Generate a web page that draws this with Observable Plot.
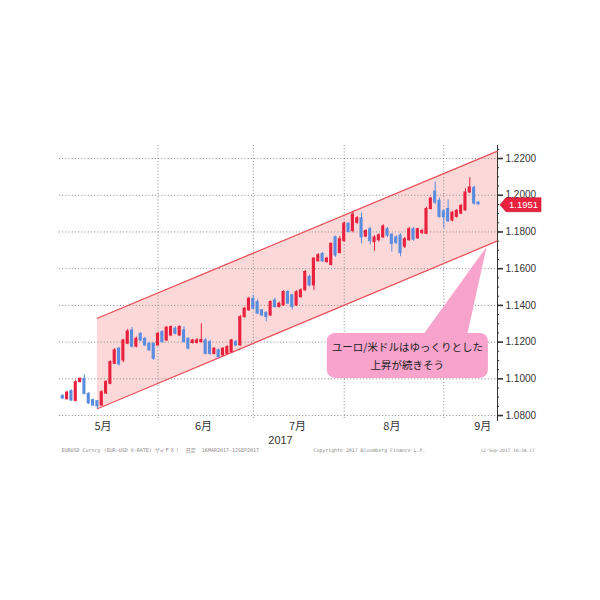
<!DOCTYPE html>
<html>
<head>
<meta charset="utf-8">
<script src="https://cdn.jsdelivr.net/npm/d3@7"></script>
<script src="https://cdn.jsdelivr.net/npm/@observablehq/plot@0.6"></script>
<style>
  html, body { margin: 0; padding: 0; background: #fff; }
  #chart { width: 600px; height: 600px; }
  #chart svg [aria-label="y-axis tick"] { stroke-width: 1.6px; }
</style>
</head>
<body>
<div id="chart"></div>
<script>
// ---- Data (EUR/USD daily candles, 1 May – 12 Sep 2017) ----
const opens  = [1.0907,1.0889,1.0933,1.0880,1.0982,1.1000,1.0918,1.0884,1.0878,1.0855,
                1.0920,1.0973,1.1082,1.1164,1.1100,1.1191,1.1264,1.1175,1.1245,1.1218,
                1.1191,1.1191,1.1182,1.1255,1.1209,1.1236,1.1273,1.1236,1.1264,1.1218,
                1.1195,1.1195,1.1200,1.1209,1.1200,1.1136,1.1155,1.1128,1.1136,1.1145,
                1.1200,1.1182,1.1336,1.1373,1.1436,1.1418,1.1373,1.1360,1.1345,1.1427,
                1.1391,1.1400,1.1473,1.1455,1.1399,1.1445,1.1482,1.1555,1.1509,1.1640,
                1.1680,1.1636,1.1620,1.1771,1.1685,1.1750,1.1845,1.1805,1.1850,1.1875,
                1.1775,1.1815,1.1745,1.1755,1.1770,1.1815,1.1785,1.1770,1.1780,1.1720,
                1.1755,1.1815,1.1765,1.1795,1.1790,1.1925,1.2020,1.1970,1.1912,1.1925,
                1.1862,1.1882,1.1900,1.1918,1.2015,1.2040,1.1960];
const highs  = [1.0913,1.0930,1.0940,1.0992,1.1005,1.1022,1.0925,1.0890,1.0882,1.0935,
                1.0990,1.1098,1.1165,1.1172,1.1215,1.1270,1.1280,1.1228,1.1252,1.1226,
                1.1198,1.1196,1.1252,1.1262,1.1285,1.1288,1.1285,1.1290,1.1285,1.1224,
                1.1215,1.1220,1.1300,1.1218,1.1210,1.1170,1.1162,1.1170,1.1180,1.1215,
                1.1210,1.1345,1.1390,1.1445,1.1455,1.1430,1.1378,1.1365,1.1424,1.1440,
                1.1418,1.1480,1.1480,1.1460,1.1480,1.1490,1.1590,1.1565,1.1660,1.1682,
                1.1688,1.1662,1.1740,1.1778,1.1775,1.1855,1.1850,1.1910,1.1885,1.1905,
                1.1812,1.1825,1.1780,1.1790,1.1840,1.1825,1.1790,1.1780,1.1790,1.1770,
                1.1825,1.1825,1.1820,1.1815,1.1935,1.1988,1.2072,1.1985,1.1920,1.1975,
                1.1912,1.1922,1.1950,1.2035,1.2095,1.2050,1.1965];
const lows   = [1.0886,1.0884,1.0878,1.0874,1.0978,1.0912,1.0860,1.0848,1.0838,1.0850,
                1.0915,1.0968,1.1078,1.1070,1.1088,1.1186,1.1168,1.1168,1.1202,1.1176,
                1.1150,1.1100,1.1178,1.1195,1.1203,1.1230,1.1240,1.1230,1.1195,1.1158,
                1.1190,1.1190,1.1195,1.1130,1.1128,1.1130,1.1112,1.1122,1.1132,1.1140,
                1.1175,1.1176,1.1330,1.1368,1.1375,1.1350,1.1338,1.1310,1.1340,1.1385,
                1.1386,1.1395,1.1405,1.1375,1.1394,1.1440,1.1478,1.1500,1.1482,1.1635,
                1.1635,1.1630,1.1615,1.1662,1.1680,1.1745,1.1795,1.1795,1.1840,1.1735,
                1.1770,1.1730,1.1695,1.1745,1.1765,1.1770,1.1690,1.1730,1.1665,1.1710,
                1.1750,1.1750,1.1760,1.1785,1.1785,1.1920,1.1950,1.1875,1.1820,1.1852,
                1.1855,1.1875,1.1895,1.1912,1.2010,1.1945,1.1945];
const closes = [1.0893,1.0925,1.0882,1.0982,1.1000,1.0918,1.0866,1.0855,1.0850,1.0927,
                1.0982,1.1091,1.1155,1.1078,1.1209,1.1258,1.1175,1.1218,1.1209,1.1182,
                1.1155,1.1109,1.1245,1.1200,1.1278,1.1282,1.1245,1.1282,1.1200,1.1164,
                1.1209,1.1209,1.1212,1.1136,1.1136,1.1164,1.1118,1.1164,1.1173,1.1209,
                1.1182,1.1336,1.1382,1.1436,1.1382,1.1355,1.1345,1.1336,1.1418,1.1391,
                1.1409,1.1473,1.1410,1.1391,1.1472,1.1482,1.1582,1.1509,1.1655,1.1673,
                1.1640,1.1655,1.1735,1.1672,1.1760,1.1845,1.1800,1.1895,1.1875,1.1770,
                1.1805,1.1750,1.1770,1.1782,1.1830,1.1780,1.1735,1.1740,1.1685,1.1760,
                1.1815,1.1758,1.1815,1.1805,1.1925,1.1982,1.1960,1.1882,1.1880,1.1858,
                1.1905,1.1915,1.1942,1.2015,1.2042,1.1955,1.1951];

// axis / labels
const yTicks = [1.08, 1.10, 1.12, 1.14, 1.16, 1.18, 1.20, 1.22];
const yMinor = d3.range(1.080, 1.2251, 0.005);
const monthLabels = ["5月", "6月", "7月", "8月", "9月"];
const monthLabelPos = [9.3, 32.5, 54.2, 76.0, 97.0];   // trading-day index of each label
const monthEnds = [22, 44, 65, 88];                     // last trading day of May..Aug
const yearLabel = "2017";

// trend channel
const channelX = [8, 100.4];
const channelUpper = [1.1330, 1.2240];
const channelLower = [1.0837, 1.1751];

const lastPrice = 1.1951;
const noteLines = ["ユーロ/米ドルはゆっくりとした", "上昇が続きそう"];
const noteBoxX = [61.1, 98.3], noteBoxY = [1.1002, 1.1247];
const notePointerBase = [83.3, 93.5], notePointerTip = [98.0, 1.1717];

const captionLeft = "EURUSD Curncy (EUR-USD X-RATE) ザイＦＸ！  日足  16MAR2017-12SEP2017";
const captionMid = "Copyright© 2017 Bloomberg Finance L.P.";
const captionRight = "12-Sep-2017 10:54:17";

// ---- build ----
const RED = "#e8213f", BLUE = "#5b8ddf";
const candles = opens.map((o, i) => ({
  i, open: o, high: highs[i], low: lows[i], close: closes[i],
  color: closes[i] >= o ? RED : BLUE
}));
const channel = channelX.map((x, k) => ({x, lo: channelLower[k], hi: channelUpper[k]}));
const xDomain = [-0.75, 100.4];
const yDomain = [1.0773, 1.2271];

function overlay(...args) {
  const sc = args.find(a => a && typeof a.x === "function" && typeof a.y === "function");
  const g = d3.create("svg:g");
  if (!sc) return g.node();
  const X = sc.x, Y = sc.y;
  // note pointer + box
  const bx0 = X(noteBoxX[0]), bx1 = X(noteBoxX[1]);
  const by0 = Y(noteBoxY[1]), by1 = Y(noteBoxY[0]);
  g.append("path")
    .attr("d", `M${X(notePointerBase[0])},${by0 + 2}L${X(notePointerTip[0])},${Y(notePointerTip[1])}L${X(notePointerBase[1])},${by0 + 2}Z`)
    .attr("fill", "#f7a3cb");
  g.append("rect")
    .attr("x", bx0).attr("y", by0).attr("width", bx1 - bx0).attr("height", by1 - by0)
    .attr("rx", 8).attr("fill", "#f7a3cb");
  const cx = (bx0 + bx1) / 2;
  noteLines.forEach((t, k) => {
    g.append("text").attr("x", cx).attr("y", by0 + 15.5 + k * 18)
      .attr("text-anchor", "middle").attr("dominant-baseline", "middle")
      .attr("font-family", "'Noto Sans CJK JP', sans-serif").attr("font-size", 10.5)
      .attr("fill", "#222").text(t);
  });
  // last price label
  const x0 = X(xDomain[1]), y0 = Y(lastPrice) + 1;
  g.append("path")
    .attr("d", `M${x0 + 3},${y0}L${x0 + 9},${y0 - 7}L${x0 + 44},${y0 - 7}L${x0 + 44},${y0 + 7}L${x0 + 9},${y0 + 7}Z`)
    .attr("fill", RED).attr("stroke", "#c0102c").attr("stroke-width", 0.6);
  g.append("text").attr("x", x0 + 26.5).attr("y", y0 + 1)
    .attr("text-anchor", "middle").attr("dominant-baseline", "middle")
    .attr("font-family", "'Liberation Sans', Arial, sans-serif").attr("font-size", 9.5)
    .attr("fill", "#fff").text(lastPrice.toFixed(4));
  return g.node();
}

const chart = Plot.plot({
  width: 600, height: 600,
  marginLeft: 59, marginRight: 103, marginTop: 145, marginBottom: 180,
  style: {fontFamily: "'Liberation Sans', Arial, sans-serif", fontSize: "10px", color: "#333", background: "#fff"},
  x: {domain: xDomain, axis: null},
  y: {domain: yDomain, axis: "right", ticks: yTicks, tickFormat: d => d.toFixed(4), tickSize: 5, tickPadding: 3, label: null, line: true},
  color: {type: "identity"},
  marks: [
    Plot.areaY(channel, {x: "x", y1: "lo", y2: "hi", fill: "#fcd8d8"}),
    Plot.ruleY(yTicks, {stroke: "#888", strokeDasharray: "1,2.2", strokeWidth: 1}),
    Plot.ruleX(monthEnds, {stroke: "#888", strokeDasharray: "1,2.2", strokeWidth: 1}),
    Plot.ruleY(yMinor, {x1: xDomain[1], x2: xDomain[1] + 0.5, stroke: "#333"}),
    Plot.line(channel, {x: "x", y: "hi", stroke: "#e9505b", strokeWidth: 1.3}),
    Plot.line(channel, {x: "x", y: "lo", stroke: "#e9505b", strokeWidth: 1.3}),
    Plot.ruleX(candles, {x: "i", y1: "low", y2: "high", stroke: "color", strokeWidth: 1}),
    Plot.rect(candles, {x1: d => d.i - 0.36, x2: d => d.i + 0.36, y1: "open", y2: "close", fill: "color", insetTop: -0.5, insetBottom: -0.5}),
    Plot.text(monthLabels, {x: (d, k) => monthLabelPos[k], frameAnchor: "bottom", dy: 6, lineAnchor: "middle", fontSize: 11, fill: "#333", fontFamily: "'Noto Sans CJK JP', sans-serif", text: d => d}),
    Plot.text([yearLabel], {frameAnchor: "bottom", dx: 2, dy: 19.5, lineAnchor: "middle", fontSize: 11, fill: "#333", text: d => d}),
    Plot.text([captionLeft], {frameAnchor: "bottom-left", dx: 2, dy: 30, textAnchor: "start", lineAnchor: "middle", fontSize: 5, fill: "#888", fontFamily: "'DejaVu Sans Mono', 'Noto Sans CJK JP', monospace", text: d => d}),
    Plot.text([captionMid], {frameAnchor: "bottom-left", dx: 254, dy: 30, textAnchor: "start", lineAnchor: "middle", fontSize: 4.9, fill: "#888", fontFamily: "'DejaVu Sans Mono', monospace", text: d => d}),
    Plot.text([captionRight], {frameAnchor: "bottom-left", dx: 421, dy: 30, textAnchor: "start", lineAnchor: "middle", fontSize: 4.5, fill: "#888", fontFamily: "'DejaVu Sans Mono', monospace", text: d => d}),
    overlay
  ]
});
document.getElementById("chart").appendChild(chart);
</script>
</body>
</html>
